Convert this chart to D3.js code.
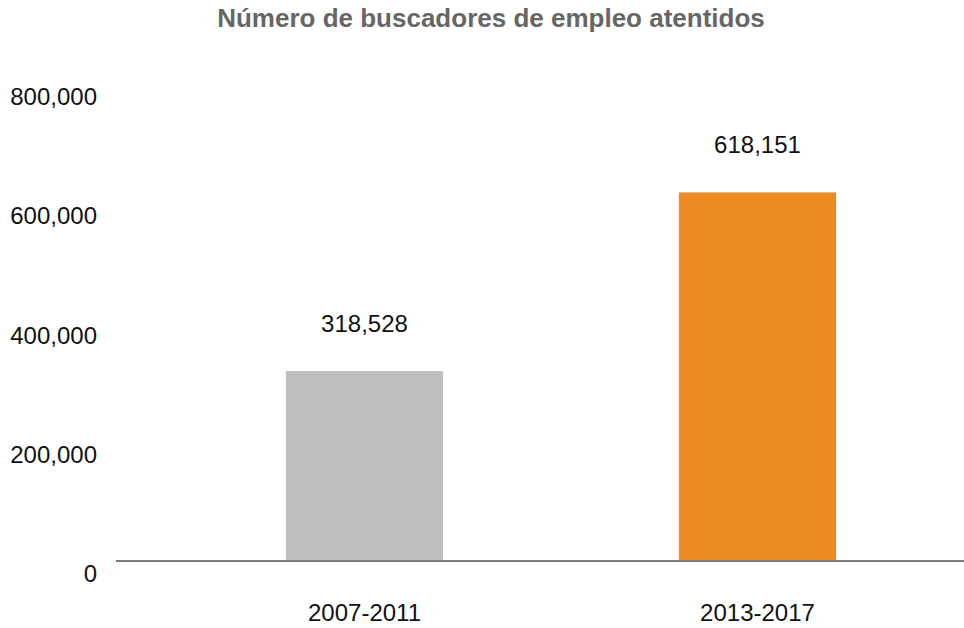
<!DOCTYPE html>
<html><head><meta charset="utf-8">
<script src="https://cdn.jsdelivr.net/npm/d3@7"></script>
<style>body{margin:0;background:#fff;}svg{display:block;}</style>
</head><body>
<svg id="c" width="964" height="628"></svg>
<script>
const title = "Número de buscadores de empleo atentidos";
const categories = ["2007-2011", "2013-2017"];
const values = [318528, 618151];
const barColors = ["#BDBEC0", "#EE8A22"];
const yTicks = [0, 200000, 400000, 600000, 800000];

const svg = d3.select("#c");
const font = "'Liberation Sans', Arial, Helvetica, sans-serif";
const baseY = 561;
const y = d3.scaleLinear().domain([0, 800000]).range([baseY, 84]);
const x = d3.scaleBand().domain(categories).range([168, 954]).paddingInner(0.6).paddingOuter(0.3);
const fmt = d3.format(",");

svg.append("text").attr("x", 491).attr("y", 27).attr("text-anchor", "middle")
  .attr("font-family", font).attr("font-weight", "bold").attr("font-size", 26)
  .attr("fill", "#666666").text(title);

// y labels
const yAxis = d3.axisLeft(y).tickValues(yTicks).tickFormat(d => fmt(d)).tickSize(0).tickPadding(0);
const ya = svg.append("g").attr("transform", "translate(97,13)").call(yAxis);
ya.select(".domain").remove();
ya.selectAll("text").attr("font-family", font).attr("font-size", 24).attr("fill", "#111");

// bars
svg.selectAll("rect.bar").data(values).join("rect").attr("class", "bar")
  .attr("x", (d, i) => x(categories[i])).attr("width", x.bandwidth())
  .attr("y", d => y(d)).attr("height", d => baseY - y(d))
  .attr("fill", (d, i) => barColors[i]);

// value labels
svg.selectAll("text.val").data(values).join("text").attr("class", "val")
  .attr("x", (d, i) => x(categories[i]) + x.bandwidth() / 2)
  .attr("y", d => y(d) - 39).attr("text-anchor", "middle")
  .attr("font-family", font).attr("font-size", 24).attr("fill", "#111").text(d => fmt(d));

// baseline
svg.append("line").attr("x1", 116).attr("x2", 964).attr("y1", baseY).attr("y2", baseY)
  .attr("stroke", "#7a7a7a").attr("stroke-width", 2);

// x labels
const xAxis = d3.axisBottom(x).tickSize(0).tickPadding(0);
const xa = svg.append("g").attr("transform", `translate(0,${baseY + 60})`).call(xAxis);
xa.select(".domain").remove();
xa.selectAll("text").attr("font-family", font).attr("font-size", 24).attr("fill", "#111").attr("dy", 0);
</script>
</body></html>
